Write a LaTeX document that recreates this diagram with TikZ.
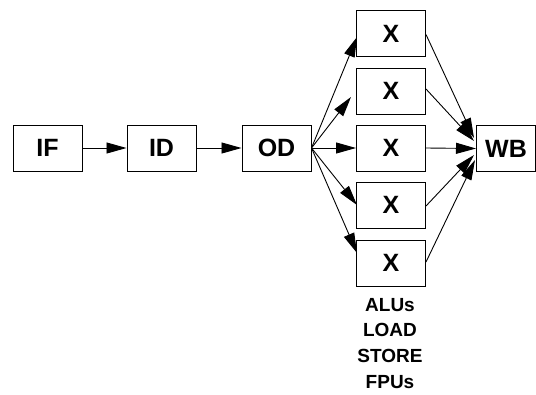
\documentclass[tikz,border=0pt]{standalone}
\usepackage{fontspec}
\setmainfont{Liberation Sans}
\usetikzlibrary{arrows.meta}
\begin{document}
\begin{tikzpicture}[x=1pt,y=-1pt,
  stage/.style={draw,line width=1pt,minimum width=69pt,minimum height=46pt,inner sep=0pt,font=\fontsize{25}{26}\selectfont\bfseries},
  conn/.style={line width=0.9pt,-{Triangle[length=20pt,width=11pt]}},
  lbl/.style={font=\fontsize{19}{25.7}\selectfont\bfseries,align=center,inner sep=0pt}]
\useasboundingbox (0,0) rectangle (536,394);
\node[stage] (if) at (47.5,148) {IF};
\node[stage] (id) at (161.5,148) {ID};
\node[stage] (od) at (276.5,148) {OD};
\node[stage] (x1) at (391,33.5) {X};
\node[stage] (x2) at (391,91) {X};
\node[stage] (x3) at (391,148) {X};
\node[stage] (x4) at (391,205) {X};
\node[stage] (x5) at (391,263) {X};
\node[stage,minimum width=59pt] (wb) at (506,148.5) {WB};
\node[lbl,anchor=north] (units) at (390,298) {ALUs\\LOAD\\STORE\\FPUs};
\coordinate (o1) at (357,37);
\coordinate (o2) at (351,97);
\coordinate (o4) at (357,205);
\coordinate (o5) at (357,253);
\coordinate (w1) at (474,138);
\coordinate (w2) at (474,141);
\coordinate (w4) at (474,155);
\coordinate (w5) at (475,160);
\draw[conn] (if) -- (id);
\draw[conn] (id) -- (od);
\draw[conn] (od.east) -- (o1);
\draw[conn] (od.east) -- (o2);
\draw[conn] (od.east) -- (x3.west);
\draw[conn] (od.east) -- (o4);
\draw[conn] (od.east) -- (o5);
\draw[conn] ([yshift=-1pt]x1.east) -- (w1);
\draw[conn] ([yshift=2pt]x2.east) -- (w2);
\draw[conn] (x3.east) -- (wb.west);
\draw[conn] ([yshift=-1pt]x4.east) -- (w4);
\draw[conn] ([yshift=1pt]x5.east) -- (w5);
\end{tikzpicture}
\end{document}
